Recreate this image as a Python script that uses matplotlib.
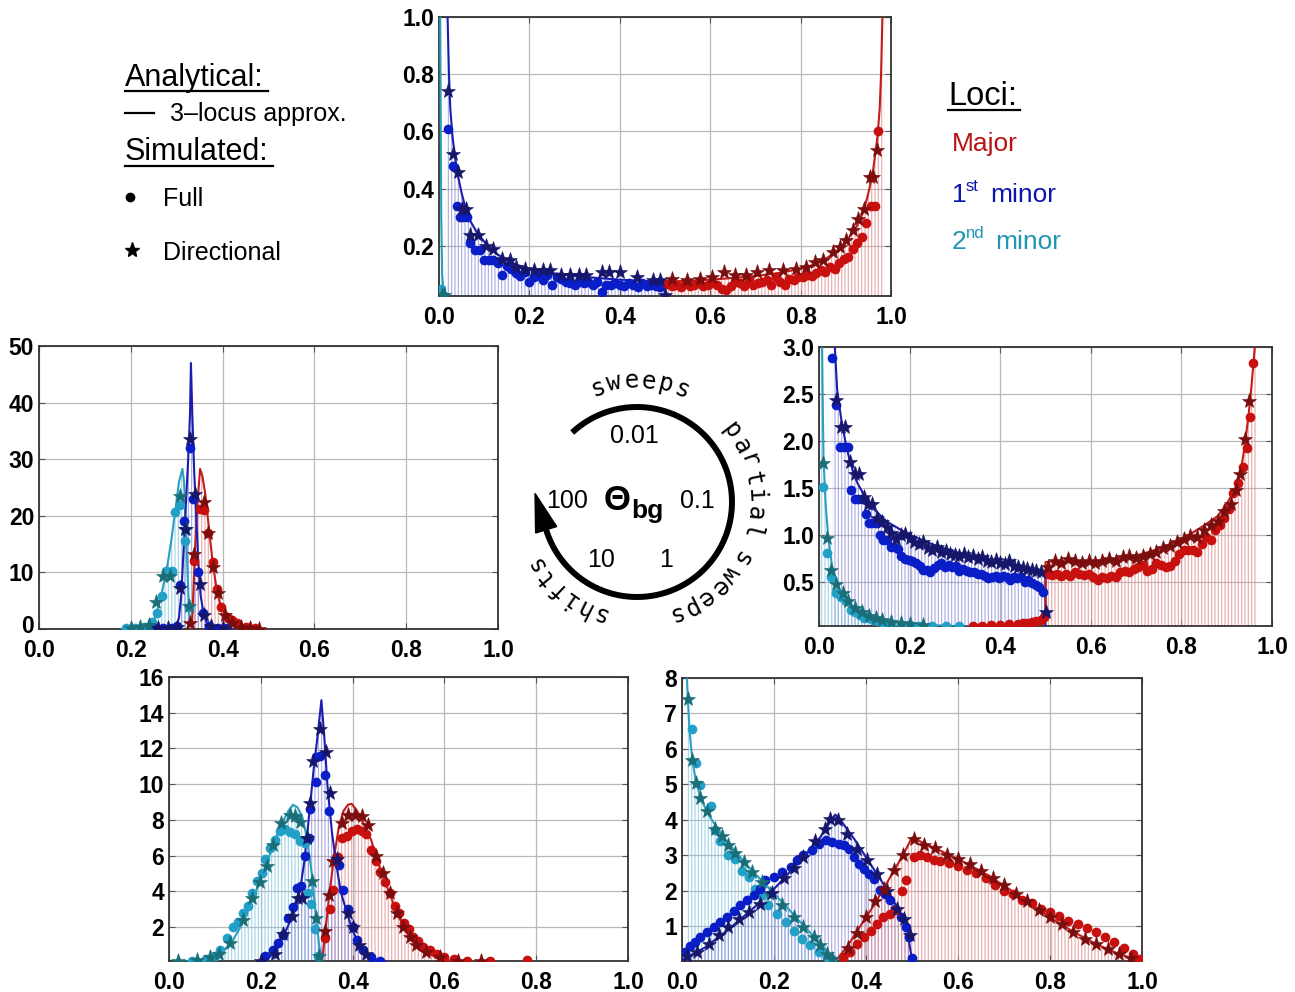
import numpy as np
import matplotlib
matplotlib.use("Agg")
import matplotlib.pyplot as plt
from matplotlib.patches import Polygon
from matplotlib.ticker import FormatStrFormatter
from matplotlib.transforms import ScaledTranslation

plt.rcParams['font.family'] = ['Liberation Sans', 'DejaVu Sans']
plt.rcParams['hatch.linewidth'] = 0.8

# ---------------- colours ----------------
MAJ_LINE, MAJ_DOT, MAJ_STAR, MAJ_BAR = '#c41a1a', '#c8100f', '#7a0d0d', '#e08c8c'
M1_LINE, M1_DOT, M1_STAR, M1_BAR = '#1c1cb0', '#0a1ec8', '#16166a', '#8c8cdc'
M2_LINE, M2_DOT, M2_STAR, M2_BAR = '#2a9fc0', '#23a0c8', '#1a6e78', '#84c6de'

# ================= Panel A : theta_bg = 0.01 (top) =================
A_maj_curve_x = [0.5, 0.55, 0.6, 0.65, 0.7, 0.75, 0.8, 0.83, 0.85, 0.87, 0.89, 0.9, 0.917, 0.93,
                 0.94, 0.95, 0.96, 0.97, 0.975, 0.978, 0.981, 0.985]
A_maj_curve_y = [0.075, 0.078, 0.082, 0.088, 0.095, 0.105, 0.12, 0.135, 0.15, 0.17, 0.195, 0.215,
                 0.25, 0.285, 0.325, 0.385, 0.46, 0.58, 0.68, 0.80, 1.0, 1.4]
A_m1_curve_x = [0.015, 0.019, 0.022, 0.025, 0.03, 0.04, 0.05, 0.06, 0.07, 0.083, 0.1, 0.11, 0.13,
                0.15, 0.17, 0.2, 0.25, 0.3, 0.35, 0.4, 0.45, 0.5]
A_m1_curve_y = [1.4, 1.0, 0.80, 0.68, 0.58, 0.46, 0.385, 0.325, 0.285, 0.25, 0.215, 0.195, 0.17,
                0.15, 0.135, 0.12, 0.105, 0.095, 0.088, 0.082, 0.078, 0.075]
A_m2_curve_x = [0.001, 0.003, 0.005, 0.007, 0.01, 0.015]
A_m2_curve_y = [1.5, 0.9, 0.3, 0.1, 0.04, 0.026]

A_m1_dots_x = [0.019, 0.030, 0.039, 0.046, 0.054, 0.061, 0.069, 0.080, 0.091, 0.10,
               0.11, 0.12, 0.13, 0.14, 0.15, 0.16, 0.17, 0.18, 0.19, 0.20,
               0.21, 0.22, 0.23, 0.24, 0.25, 0.26, 0.27, 0.28, 0.29, 0.30,
               0.31, 0.32, 0.33, 0.34, 0.35, 0.36, 0.37, 0.38, 0.39, 0.40,
               0.41, 0.42, 0.43, 0.44, 0.45, 0.46, 0.47, 0.48, 0.49]
A_m1_dots_y = [0.61, 0.48, 0.34, 0.30, 0.30, 0.30, 0.21, 0.185, 0.185, 0.15,
               0.15, 0.15, 0.14, 0.10, 0.13, 0.12, 0.105, 0.095, 0.11, 0.075,
               0.09, 0.10, 0.08, 0.10, 0.065, 0.09, 0.085, 0.075, 0.07, 0.065,
               0.075, 0.07, 0.075, 0.065, 0.075, 0.04, 0.065, 0.065, 0.07, 0.065,
               0.06, 0.07, 0.065, 0.055, 0.07, 0.06, 0.065, 0.06, 0.055]
A_m1_stars_x = [0.021, 0.030, 0.041, 0.050, 0.060, 0.069, 0.087, 0.104, 0.120, 0.139,
                0.157, 0.170, 0.190, 0.210, 0.230, 0.245, 0.270, 0.290, 0.310, 0.325,
                0.360, 0.375, 0.400, 0.437, 0.474, 0.490, 0.500]
A_m1_stars_y = [0.74, 0.52, 0.458, 0.33, 0.33, 0.237, 0.237, 0.20, 0.19, 0.155,
                0.15, 0.126, 0.12, 0.115, 0.115, 0.115, 0.097, 0.097, 0.097, 0.097,
                0.11, 0.11, 0.11, 0.092, 0.08, 0.08, 0.027]
A_maj_dots_x = [0.505, 0.515, 0.525, 0.535, 0.545, 0.555, 0.565, 0.575, 0.585, 0.595,
                0.605, 0.615, 0.625, 0.635, 0.645, 0.655, 0.665, 0.675, 0.685, 0.695,
                0.705, 0.715, 0.725, 0.735, 0.745, 0.755, 0.765, 0.775, 0.785, 0.795,
                0.805, 0.815, 0.825, 0.835, 0.845, 0.855, 0.865, 0.875, 0.885, 0.895,
                0.905, 0.915, 0.925, 0.935, 0.945, 0.955, 0.965, 0.972]
A_maj_dots_y = [0.068, 0.06, 0.065, 0.055, 0.07, 0.06, 0.065, 0.07, 0.06, 0.065,
                0.07, 0.065, 0.05, 0.045, 0.06, 0.075, 0.07, 0.06, 0.08, 0.065,
                0.07, 0.075, 0.08, 0.065, 0.09, 0.075, 0.065, 0.085, 0.08, 0.09,
                0.09, 0.1, 0.095, 0.105, 0.115, 0.11, 0.125, 0.12, 0.14, 0.155,
                0.16, 0.19, 0.21, 0.23, 0.28, 0.34, 0.34, 0.60]
A_maj_stars_x = [0.515, 0.548, 0.577, 0.603, 0.630, 0.655, 0.680, 0.703, 0.730, 0.760,
                 0.790, 0.813, 0.832, 0.850, 0.872, 0.887, 0.900, 0.917, 0.928, 0.940,
                 0.953, 0.960, 0.970]
A_maj_stars_y = [0.086, 0.08, 0.086, 0.09, 0.11, 0.097, 0.097, 0.11, 0.115, 0.115,
                 0.12, 0.126, 0.144, 0.15, 0.18, 0.196, 0.22, 0.255, 0.295, 0.33,
                 0.44, 0.44, 0.536]
A_m2_dots_x = [0.004, 0.008]
A_m2_dots_y = [0.05, 0.03]
A_m2_stars_x = [0.006, 0.01]
A_m2_stars_y = [0.03, 0.028]

# ================= Panel B : theta_bg = 100 (middle left) =================
B_m1_curve_x = [0.26, 0.29, 0.30, 0.305, 0.31, 0.315, 0.32, 0.325, 0.329, 0.331, 0.334, 0.338,
                0.342, 0.347, 0.352, 0.358, 0.365, 0.375, 0.39]
B_m1_curve_y = [0.0, 0.1, 0.5, 2.0, 6.0, 14.0, 22.0, 30.0, 38.0, 47.0, 38.0, 28.0,
                21.0, 12.0, 6.0, 3.0, 1.2, 0.4, 0.1]
B_m2_curve_x = [0.18, 0.2, 0.22, 0.24, 0.25, 0.256, 0.265, 0.278, 0.288, 0.297, 0.305, 0.3125,
                0.316, 0.32, 0.324, 0.327, 0.33, 0.334]
B_m2_curve_y = [0.02, 0.1, 0.25, 0.6, 1.5, 2.8, 5.5, 10.4, 15.5, 21.0, 26.0, 28.3,
                26.0, 18.0, 9.0, 3.0, 1.0, 0.0]
B_maj_curve_x = [0.333, 0.336, 0.34, 0.345, 0.351, 0.356, 0.362, 0.37, 0.378, 0.387, 0.397,
                 0.41, 0.42, 0.44, 0.47]
B_maj_curve_y = [0.0, 6.0, 14.0, 22.0, 28.3, 27.0, 24.0, 18.0, 12.0, 7.0, 3.8,
                 1.8, 1.0, 0.3, 0.05]
B_m1_dots_x = [0.25, 0.27, 0.29, 0.30, 0.307, 0.315, 0.328, 0.336, 0.347, 0.358, 0.37, 0.39, 0.41]
B_m1_dots_y = [0.1, 0.15, 0.2, 0.6, 7.8, 19.0, 32.0, 23.0, 10.0, 2.9, 0.5, 0.2, 0.1]
B_m1_stars_x = [0.26, 0.28, 0.30, 0.307, 0.319, 0.329, 0.339, 0.35, 0.36, 0.375, 0.4]
B_m1_stars_y = [0.1, 0.2, 0.4, 7.2, 17.6, 33.5, 23.8, 8.0, 2.5, 0.6, 0.15]
B_m2_dots_x = [0.19, 0.21, 0.23, 0.246, 0.256, 0.267, 0.277, 0.289, 0.297, 0.307, 0.318, 0.326]
B_m2_dots_y = [0.1, 0.2, 0.4, 1.3, 2.9, 5.9, 10.3, 10.3, 20.7, 21.9, 15.6, 3.9]
B_m2_stars_x = [0.2, 0.22, 0.24, 0.255, 0.271, 0.286, 0.307, 0.32, 0.326]
B_m2_stars_y = [0.1, 0.3, 0.7, 4.8, 9.4, 9.4, 23.5, 17.6, 4.0]
B_maj_dots_x = [0.338, 0.351, 0.36, 0.369, 0.378, 0.387, 0.397, 0.409, 0.42, 0.431, 0.45, 0.47]
B_maj_dots_y = [12.0, 21.2, 21.0, 17.0, 11.8, 7.1, 3.8, 2.2, 1.6, 1.0, 0.3, 0.1]
B_maj_stars_x = [0.329, 0.338, 0.36, 0.369, 0.38, 0.389, 0.405, 0.42, 0.44, 0.46, 0.48]
B_maj_stars_y = [1.1, 13.2, 22.4, 17.0, 10.9, 6.3, 2.5, 1.0, 0.4, 0.15, 0.05]

# ================= Panel C : theta_bg = 0.1 (middle right) =================
C_m1_curve_x = [0.03, 0.035, 0.04, 0.05, 0.06, 0.07, 0.085, 0.1, 0.12, 0.15, 0.2, 0.25, 0.3,
                0.35, 0.4, 0.45, 0.49, 0.5, 0.5]
C_m1_curve_y = [3.6, 3.0, 2.55, 2.2, 1.95, 1.75, 1.55, 1.42, 1.28, 1.14, 1.0, 0.9, 0.82,
                0.76, 0.71, 0.66, 0.6, 0.55, 0.0]
C_m2_curve_x = [0.004, 0.006, 0.008, 0.01, 0.015, 0.02, 0.03, 0.04, 0.05, 0.07, 0.1, 0.15,
                0.2, 0.25, 0.3, 0.35]
C_m2_curve_y = [4.0, 3.4, 2.5, 1.8, 1.3, 1.0, 0.62, 0.47, 0.38, 0.26, 0.17, 0.09,
                0.055, 0.04, 0.03, 0.02]
C_maj_curve_x = [0.333, 0.37, 0.41, 0.44, 0.47, 0.49, 0.5, 0.5, 0.52, 0.55, 0.6, 0.65, 0.7,
                 0.75, 0.8, 0.85, 0.88, 0.9, 0.92, 0.93, 0.94, 0.95, 0.955, 0.962, 0.967]
C_maj_curve_y = [0.03, 0.035, 0.045, 0.06, 0.08, 0.11, 0.15, 0.71, 0.72, 0.72, 0.72, 0.74, 0.78,
                 0.85, 0.95, 1.1, 1.2, 1.33, 1.5, 1.65, 1.95, 2.35, 2.6, 3.0, 3.4]
C_m1_dots_x = [0.029, 0.038, 0.047, 0.056, 0.064, 0.071, 0.079, 0.087, 0.095, 0.103,
               0.110, 0.118, 0.126, 0.134, 0.142, 0.150, 0.158, 0.166, 0.174, 0.182,
               0.190, 0.198, 0.206, 0.214, 0.222, 0.230, 0.238, 0.246, 0.254, 0.262,
               0.270, 0.278, 0.286, 0.294, 0.302, 0.310, 0.318, 0.326, 0.334, 0.342,
               0.350, 0.358, 0.366, 0.374, 0.382, 0.390, 0.398, 0.406, 0.414, 0.422,
               0.430, 0.438, 0.446, 0.454, 0.462, 0.470, 0.478, 0.486, 0.494, 0.499]
C_m1_dots_y = [2.88, 2.38, 1.94, 1.94, 1.94, 1.48, 1.38, 1.38, 1.38, 1.22,
               1.13, 1.13, 1.13, 1.0, 0.95, 0.95, 0.87, 0.87, 0.85, 0.77,
               0.74, 0.73, 0.72, 0.70, 0.67, 0.63, 0.63, 0.60, 0.65, 0.68,
               0.70, 0.66, 0.68, 0.66, 0.67, 0.62, 0.64, 0.62, 0.60, 0.60,
               0.58, 0.58, 0.56, 0.54, 0.55, 0.56, 0.54, 0.56, 0.55, 0.52,
               0.55, 0.54, 0.55, 0.50, 0.52, 0.49, 0.47, 0.44, 0.39, 0.15]
C_m1_stars_x = [0.038, 0.049, 0.057, 0.069, 0.080, 0.088, 0.10, 0.108, 0.118, 0.128,
                0.14, 0.15, 0.16, 0.17, 0.18, 0.19, 0.20, 0.21, 0.22, 0.23,
                0.24, 0.25, 0.26, 0.27, 0.28, 0.29, 0.30, 0.31, 0.32, 0.33,
                0.34, 0.35, 0.36, 0.37, 0.38, 0.39, 0.40, 0.41, 0.42, 0.43,
                0.44, 0.45, 0.46, 0.47, 0.48, 0.49, 0.50]
C_m1_stars_y = [2.44, 2.15, 2.15, 1.78, 1.65, 1.65, 1.40, 1.33, 1.33, 1.18,
                1.14, 1.08, 1.02, 0.96, 1.0, 1.01, 0.97, 0.92, 0.90, 0.92,
                0.86, 0.84, 0.87, 0.82, 0.83, 0.80, 0.79, 0.78, 0.80, 0.76,
                0.77, 0.74, 0.76, 0.72, 0.71, 0.73, 0.70, 0.69, 0.72, 0.67,
                0.66, 0.65, 0.64, 0.63, 0.62, 0.60, 0.18]
C_m2_dots_x = [0.009, 0.018, 0.027, 0.038, 0.049, 0.06, 0.071, 0.08, 0.09, 0.1, 0.11,
               0.12, 0.13, 0.14, 0.15, 0.16, 0.18, 0.2, 0.22, 0.25, 0.28, 0.31]
C_m2_dots_y = [1.51, 0.81, 0.55, 0.38, 0.34, 0.30, 0.20, 0.18, 0.15, 0.12, 0.11,
               0.09, 0.08, 0.07, 0.06, 0.055, 0.045, 0.04, 0.035, 0.03, 0.03, 0.03]
C_m2_stars_x = [0.009, 0.018, 0.027, 0.038, 0.053, 0.065, 0.08, 0.095, 0.11, 0.125,
                0.14, 0.16, 0.18, 0.2, 0.23]
C_m2_stars_y = [1.76, 0.97, 0.63, 0.48, 0.38, 0.30, 0.22, 0.18, 0.14, 0.11,
                0.09, 0.07, 0.06, 0.05, 0.04]
C_maj_dots_x = [0.34, 0.36, 0.38, 0.40, 0.42, 0.44, 0.45, 0.46, 0.47, 0.48, 0.49, 0.497,
                0.505, 0.515, 0.525, 0.535, 0.545, 0.555, 0.565, 0.575, 0.585, 0.595,
                0.605, 0.615, 0.625, 0.635, 0.645, 0.655, 0.665, 0.675, 0.685, 0.695,
                0.705, 0.715, 0.725, 0.735, 0.745, 0.755, 0.765, 0.775, 0.785, 0.795,
                0.805, 0.815, 0.825, 0.835, 0.845, 0.855, 0.865, 0.875, 0.885, 0.895,
                0.905, 0.915, 0.925, 0.935, 0.945, 0.952, 0.958]
C_maj_dots_y = [0.03, 0.035, 0.04, 0.045, 0.05, 0.055, 0.06, 0.065, 0.07, 0.08, 0.09, 0.13,
                0.58, 0.57, 0.58, 0.56, 0.58, 0.56, 0.60, 0.58, 0.57, 0.58,
                0.55, 0.52, 0.55, 0.54, 0.56, 0.55, 0.60, 0.62, 0.60, 0.64,
                0.66, 0.68, 0.62, 0.64, 0.70, 0.68, 0.66, 0.67, 0.72, 0.80,
                0.84, 0.84, 0.84, 0.82, 0.90, 0.98, 0.95, 1.05, 1.10, 1.18,
                1.28, 1.45, 1.55, 1.72, 1.93, 2.26, 2.83]
C_maj_stars_x = [0.505, 0.52, 0.535, 0.55, 0.565, 0.58, 0.595, 0.61, 0.625, 0.64,
                 0.655, 0.67, 0.685, 0.70, 0.715, 0.73, 0.745, 0.76, 0.775, 0.79,
                 0.805, 0.82, 0.835, 0.85, 0.865, 0.88, 0.895, 0.91, 0.92, 0.93,
                 0.94, 0.95]
C_maj_stars_y = [0.66, 0.72, 0.70, 0.74, 0.72, 0.70, 0.72, 0.70, 0.72, 0.74,
                 0.72, 0.76, 0.77, 0.75, 0.78, 0.80, 0.82, 0.86, 0.88, 0.92,
                 0.96, 0.99, 0.98, 1.05, 1.10, 1.15, 1.25, 1.33, 1.48, 1.65,
                 2.02, 2.43]

# ================= Panel D : theta_bg = 10 (bottom left) =================
D_m1_curve_x = [0.2, 0.22, 0.24, 0.26, 0.275, 0.285, 0.295, 0.305, 0.315, 0.325, 0.332, 0.338,
                0.345, 0.355, 0.365, 0.375, 0.39, 0.4, 0.415, 0.43, 0.45, 0.48]
D_m1_curve_y = [0.15, 0.35, 1.0, 2.1, 3.0, 4.0, 5.7, 8.2, 10.8, 13.0, 14.7, 12.8,
                10.0, 7.3, 5.4, 3.9, 2.6, 1.8, 1.0, 0.5, 0.2, 0.05]
D_m2_curve_x = [0.02, 0.06, 0.1, 0.12, 0.14, 0.16, 0.18, 0.2, 0.22, 0.24, 0.26, 0.27, 0.28,
                0.29, 0.3, 0.31, 0.32, 0.327, 0.333]
D_m2_curve_y = [0.05, 0.1, 0.35, 0.7, 1.3, 2.2, 3.4, 4.7, 6.1, 7.5, 8.5, 8.85, 8.7,
                8.2, 7.1, 5.2, 2.7, 1.0, 0.0]
D_maj_curve_x = [0.333, 0.34, 0.35, 0.36, 0.37, 0.38, 0.39, 0.398, 0.41, 0.42, 0.44, 0.46,
                 0.48, 0.5, 0.52, 0.54, 0.56, 0.6, 0.65, 0.7]
D_maj_curve_y = [0.0, 1.6, 4.0, 6.0, 7.6, 8.5, 8.85, 8.9, 8.5, 8.0, 6.9, 5.3,
                 3.9, 2.6, 1.6, 0.95, 0.55, 0.15, 0.03, 0.01]
D_m1_dots_x = [0.21, 0.227, 0.238, 0.249, 0.26, 0.27, 0.278, 0.287, 0.296, 0.305, 0.307, 0.32,
               0.321, 0.329, 0.34, 0.349, 0.37, 0.38, 0.389, 0.4, 0.41, 0.423, 0.44, 0.46]
D_m1_dots_y = [0.4, 0.7, 1.1, 1.55, 2.5, 3.1, 4.2, 4.3, 6.0, 7.0, 8.6, 10.1,
               11.5, 11.6, 10.5, 8.5, 5.5, 4.1, 3.0, 2.0, 1.3, 0.7, 0.3, 0.1]
D_m1_stars_x = [0.2, 0.23, 0.249, 0.267, 0.28, 0.29, 0.3, 0.308, 0.314, 0.329, 0.341, 0.35,
                0.365, 0.389, 0.4, 0.414, 0.43]
D_m1_stars_y = [0.1, 0.5, 1.6, 2.6, 3.6, 3.6, 7.0, 8.97, 11.3, 13.1, 11.8, 9.5,
                5.8, 2.8, 2.0, 1.0, 0.5]
D_m2_dots_x = [0.05, 0.08, 0.1, 0.111, 0.126, 0.14, 0.151, 0.162, 0.173, 0.18, 0.191, 0.202,
               0.209, 0.22, 0.231, 0.242, 0.252, 0.263, 0.274, 0.285, 0.296, 0.303, 0.31,
               0.318, 0.325]
D_m2_dots_y = [0.1, 0.2, 0.4, 0.7, 1.4, 2.0, 2.3, 2.8, 3.2, 3.9, 4.6, 5.0,
               5.8, 6.4, 6.9, 7.4, 7.5, 7.3, 7.2, 6.8, 6.7, 3.9, 3.3,
               1.9, 0.4]
D_m2_stars_x = [0.02, 0.06, 0.09, 0.11, 0.133, 0.162, 0.18, 0.198, 0.213, 0.227, 0.245, 0.263,
                0.274, 0.285, 0.3, 0.312, 0.321, 0.327]
D_m2_stars_y = [0.1, 0.15, 0.3, 0.5, 1.1, 2.4, 3.6, 4.5, 5.4, 6.6, 7.8, 8.3,
                8.2, 7.9, 7.0, 4.6, 2.5, 0.4]
D_maj_dots_x = [0.34, 0.35, 0.358, 0.369, 0.376, 0.387, 0.398, 0.409, 0.42, 0.429, 0.439, 0.45,
                0.46, 0.47, 0.481, 0.492, 0.501, 0.512, 0.522, 0.532, 0.543, 0.554, 0.568,
                0.583, 0.6, 0.62, 0.65, 0.7, 0.78]
D_maj_dots_y = [1.4, 3.0, 4.1, 5.9, 7.0, 7.1, 7.4, 7.5, 7.4, 7.2, 6.3, 5.7,
                5.1, 4.5, 3.9, 3.2, 2.8, 2.2, 1.9, 1.45, 1.2, 0.9, 0.7,
                0.5, 0.3, 0.2, 0.12, 0.1, 0.15]
D_maj_stars_x = [0.34, 0.349, 0.358, 0.376, 0.39, 0.405, 0.42, 0.434, 0.452, 0.467, 0.481,
                 0.496, 0.51, 0.525, 0.539, 0.561, 0.59, 0.63, 0.68]
D_maj_stars_y = [1.8, 3.8, 5.7, 7.8, 8.3, 8.3, 8.2, 7.7, 6.0, 5.0, 3.9,
                 2.8, 2.0, 1.45, 1.0, 0.6, 0.3, 0.12, 0.1]

# ================= Panel E : theta_bg = 1 (bottom right) =================
E_m2_curve_x = [0.008, 0.012, 0.016, 0.02, 0.025, 0.03, 0.04, 0.05, 0.06, 0.08, 0.1, 0.12,
                0.15, 0.18, 0.2, 0.22, 0.25, 0.28, 0.3, 0.32, 0.333]
E_m2_curve_y = [9.0, 7.6, 6.6, 6.0, 5.5, 5.1, 4.65, 4.35, 4.1, 3.7, 3.35, 3.05,
                2.6, 2.2, 1.93, 1.65, 1.22, 0.8, 0.52, 0.23, 0.0]
E_m1_curve_x = [0.0, 0.05, 0.1, 0.15, 0.2, 0.25, 0.3, 0.333, 0.35, 0.375, 0.4, 0.425, 0.45,
                0.475, 0.49, 0.5]
E_m1_curve_y = [0.05, 0.4, 0.9, 1.45, 2.05, 2.75, 3.5, 4.15, 3.9, 3.45, 2.95, 2.45, 1.95,
                1.35, 0.85, 0.05]
E_maj_curve_x = [0.333, 0.36, 0.38, 0.4, 0.42, 0.44, 0.46, 0.48, 0.5, 0.55, 0.6, 0.65, 0.7,
                 0.75, 0.8, 0.85, 0.9, 0.95, 1.0]
E_maj_curve_y = [0.0, 0.45, 0.85, 1.25, 1.65, 2.1, 2.55, 3.0, 3.5, 3.2, 2.9, 2.55, 2.15,
                 1.7, 1.25, 0.85, 0.5, 0.22, 0.0]
E_m2_dots_x = [0.022, 0.031, 0.04, 0.062, 0.072, 0.083, 0.101, 0.116, 0.13, 0.145, 0.159,
               0.174, 0.188, 0.207, 0.225, 0.243, 0.261, 0.279, 0.297, 0.315, 0.326]
E_m2_dots_y = [6.55, 5.6, 4.97, 4.4, 3.7, 3.4, 3.0, 2.9, 2.55, 2.4, 2.06,
               1.87, 1.59, 1.35, 1.12, 0.88, 0.65, 0.46, 0.27, 0.13, 0.07]
E_m2_stars_x = [0.012, 0.022, 0.03, 0.04, 0.054, 0.071, 0.087, 0.101, 0.116, 0.134,
                0.152, 0.174, 0.192, 0.217, 0.243, 0.264, 0.286, 0.3, 0.315, 0.326]
E_m2_stars_y = [7.4, 5.7, 5.05, 4.63, 4.25, 3.75, 3.54, 3.3, 3.07, 2.8,
                2.53, 2.25, 1.92, 1.59, 1.26, 0.98, 0.7, 0.46, 0.23, 0.09]
E_m1_dots_x = [0.007, 0.018, 0.029, 0.04, 0.054, 0.069, 0.083, 0.098, 0.112, 0.127,
               0.141, 0.156, 0.17, 0.181, 0.199, 0.217, 0.236, 0.25, 0.264, 0.283,
               0.297, 0.312, 0.326, 0.341, 0.352, 0.362, 0.373, 0.384, 0.395, 0.406,
               0.417, 0.431, 0.442, 0.453, 0.464, 0.475, 0.486, 0.493, 0.5]
E_m1_dots_y = [0.27, 0.43, 0.56, 0.7, 0.84, 0.98, 1.12, 1.26, 1.43, 1.59,
               1.73, 1.87, 2.05, 2.3, 2.39, 2.53, 2.67, 2.86, 3.0, 3.14,
               3.33, 3.42, 3.38, 3.33, 3.28, 3.17, 2.95, 2.76, 2.62, 2.48,
               2.34, 2.01, 1.92, 1.73, 1.5, 1.26, 0.98, 0.7, 0.11]
E_m1_stars_x = [0.011, 0.033, 0.058, 0.08, 0.101, 0.123, 0.145, 0.17, 0.195, 0.221,
                0.243, 0.264, 0.29, 0.31, 0.322, 0.34, 0.359, 0.38, 0.402, 0.424,
                0.446, 0.467, 0.482, 0.495]
E_m1_stars_y = [0.15, 0.27, 0.51, 0.75, 0.98, 1.21, 1.4, 1.64, 1.95, 2.35,
                2.65, 2.95, 3.4, 3.75, 4.03, 4.0, 3.6, 3.19, 2.86, 2.48,
                2.0, 1.5, 1.2, 0.74]
E_maj_dots_x = [0.351, 0.366, 0.38, 0.395, 0.41, 0.424, 0.438, 0.452, 0.466, 0.478,
                0.486, 0.504, 0.518, 0.533, 0.547, 0.56, 0.58, 0.6, 0.62, 0.64,
                0.66, 0.68, 0.7, 0.72, 0.74, 0.76, 0.78, 0.8, 0.82, 0.84,
                0.86, 0.88, 0.9, 0.92, 0.94, 0.96, 0.98, 0.995]
E_maj_dots_y = [0.13, 0.27, 0.51, 0.7, 0.88, 1.07, 1.26, 1.35, 1.45, 2.0,
                2.3, 2.95, 3.0, 2.95, 2.86, 2.85, 2.78, 2.7, 2.6, 2.5,
                2.35, 2.15, 2.0, 1.9, 1.75, 1.65, 1.5, 1.4, 1.3, 1.15,
                1.05, 0.95, 0.84, 0.7, 0.55, 0.4, 0.22, 0.08]
E_maj_stars_x = [0.36, 0.38, 0.4, 0.42, 0.44, 0.46, 0.48, 0.504, 0.525, 0.55,
                 0.575, 0.6, 0.625, 0.65, 0.675, 0.7, 0.725, 0.75, 0.775, 0.8,
                 0.825, 0.85, 0.875, 0.9, 0.925, 0.95, 0.975]
E_maj_stars_y = [0.4, 0.8, 1.25, 1.7, 2.05, 2.6, 3.0, 3.47, 3.28, 3.2,
                 3.0, 2.9, 2.75, 2.55, 2.35, 2.15, 1.9, 1.7, 1.45, 1.25,
                 1.05, 0.85, 0.65, 0.5, 0.35, 0.22, 0.1]

# tick definitions
X_TICKS = [0.0, 0.2, 0.4, 0.6, 0.8, 1.0]
A_YTICKS = [0.2, 0.4, 0.6, 0.8, 1.0]
B_YTICKS = [0, 10, 20, 30, 40, 50]
C_YTICKS = [0.5, 1.0, 1.5, 2.0, 2.5, 3.0]
D_YTICKS = [2, 4, 6, 8, 10, 12, 14, 16]
E_YTICKS = [1, 2, 3, 4, 5, 6, 7, 8]

W, H = 1295, 992
fig = plt.figure(figsize=(W / 100, H / 100), dpi=100)


def px_axes(left, right, top, bottom):
    return fig.add_axes([left / W, 1 - bottom / H, (right - left) / W, (bottom - top) / H])


def style(ax, ylim, yticks, yfmt):
    ax.set_xlim(0, 1)
    ax.set_ylim(*ylim)
    ax.set_xticks(X_TICKS)
    ax.set_yticks(yticks)
    ax.xaxis.set_major_formatter(FormatStrFormatter('%.1f'))
    ax.yaxis.set_major_formatter(FormatStrFormatter(yfmt))
    ax.grid(True, color='#b8b8b8', lw=0.9)
    ax.set_axisbelow(True)
    for s in ax.spines.values():
        s.set_color('#333333')
        s.set_linewidth(1.3)
    ax.tick_params(direction='in', length=4, width=0.8, labelsize=16.5,
                   color='#555555', labelcolor='black', top=True, right=True)
    ax.tick_params(axis='x', pad=7)
    ax.tick_params(axis='y', pad=3.5)
    for lab in ax.get_xticklabels() + ax.get_yticklabels():
        lab.set_fontweight('bold')


def locus(ax, cx, cy, line_c, bar_c, dx=None, dy=None, dot_c=None, sx=None, sy=None, star_c=None,
          lw=1.5):
    ax.fill_between(cx, 0, cy, facecolor='none', edgecolor=bar_c, hatch='|||||',
                    linewidth=0, alpha=0.75, zorder=1)
    ax.plot(cx, cy, color=line_c, lw=lw, zorder=3)
    if dx is not None:
        n = min(len(dx), len(dy))
        ax.plot(dx[:n], dy[:n], 'o', color=dot_c, ms=7, mec='none', zorder=4)
    if sx is not None:
        n = min(len(sx), len(sy))
        ax.plot(sx[:n], sy[:n], '*', color=star_c, ms=11, mec=star_c, mew=0.4, zorder=5)


# ---- Panel A
axA = px_axes(439, 891, 17, 296)
locus(axA, A_m1_curve_x, A_m1_curve_y, M1_LINE, M1_BAR, A_m1_dots_x, A_m1_dots_y, M1_DOT,
      A_m1_stars_x, A_m1_stars_y, M1_STAR)
locus(axA, A_maj_curve_x, A_maj_curve_y, MAJ_LINE, MAJ_BAR, A_maj_dots_x, A_maj_dots_y, MAJ_DOT,
      A_maj_stars_x, A_maj_stars_y, MAJ_STAR)
locus(axA, A_m2_curve_x, A_m2_curve_y, M2_LINE, M2_BAR, A_m2_dots_x, A_m2_dots_y, M2_DOT,
      A_m2_stars_x, A_m2_stars_y, M2_STAR)
style(axA, (0.025, 1.0), A_YTICKS, '%.1f')

# ---- Panel B
axB = px_axes(39, 498, 346, 629)
locus(axB, B_m2_curve_x, B_m2_curve_y, M2_LINE, M2_BAR, B_m2_dots_x, B_m2_dots_y, M2_DOT,
      B_m2_stars_x, B_m2_stars_y, M2_STAR)
locus(axB, B_maj_curve_x, B_maj_curve_y, MAJ_LINE, MAJ_BAR, B_maj_dots_x, B_maj_dots_y, MAJ_DOT,
      B_maj_stars_x, B_maj_stars_y, MAJ_STAR)
locus(axB, B_m1_curve_x, B_m1_curve_y, M1_LINE, M1_BAR, B_m1_dots_x, B_m1_dots_y, M1_DOT,
      B_m1_stars_x, B_m1_stars_y, M1_STAR)
style(axB, (0, 50), B_YTICKS, '%d')
# lift the "0" label a little so it clears the "0.0" x label (as in the original)
fig.canvas.draw()
zero_lab = axB.get_yticklabels()[0]
zero_lab.set_transform(zero_lab.get_transform() + ScaledTranslation(0, 5 / 100, fig.dpi_scale_trans))

# ---- Panel C
axC = px_axes(819, 1272, 347, 626)
locus(axC, C_m1_curve_x, C_m1_curve_y, M1_LINE, M1_BAR, C_m1_dots_x, C_m1_dots_y, M1_DOT,
      C_m1_stars_x, C_m1_stars_y, M1_STAR)
locus(axC, C_maj_curve_x, C_maj_curve_y, MAJ_LINE, MAJ_BAR, C_maj_dots_x, C_maj_dots_y, MAJ_DOT,
      C_maj_stars_x, C_maj_stars_y, MAJ_STAR)
locus(axC, C_m2_curve_x, C_m2_curve_y, M2_LINE, M2_BAR, C_m2_dots_x, C_m2_dots_y, M2_DOT,
      C_m2_stars_x, C_m2_stars_y, M2_STAR)
style(axC, (0.03, 3.0), C_YTICKS, '%.1f')

# ---- Panel D
axD = px_axes(169, 628, 677, 961)
locus(axD, D_m2_curve_x, D_m2_curve_y, M2_LINE, M2_BAR, D_m2_dots_x, D_m2_dots_y, M2_DOT,
      D_m2_stars_x, D_m2_stars_y, M2_STAR)
locus(axD, D_maj_curve_x, D_maj_curve_y, MAJ_LINE, MAJ_BAR, D_maj_dots_x, D_maj_dots_y, MAJ_DOT,
      D_maj_stars_x, D_maj_stars_y, MAJ_STAR)
locus(axD, D_m1_curve_x, D_m1_curve_y, M1_LINE, M1_BAR, D_m1_dots_x, D_m1_dots_y, M1_DOT,
      D_m1_stars_x, D_m1_stars_y, M1_STAR)
style(axD, (0.1, 16), D_YTICKS, '%d')

# ---- Panel E
axE = px_axes(682, 1142, 678, 961)
locus(axE, E_m2_curve_x, E_m2_curve_y, M2_LINE, M2_BAR, E_m2_dots_x, E_m2_dots_y, M2_DOT,
      E_m2_stars_x, E_m2_stars_y, M2_STAR)
locus(axE, E_m1_curve_x, E_m1_curve_y, M1_LINE, M1_BAR, E_m1_dots_x, E_m1_dots_y, M1_DOT,
      E_m1_stars_x, E_m1_stars_y, M1_STAR)
locus(axE, E_maj_curve_x, E_maj_curve_y, MAJ_LINE, MAJ_BAR, E_maj_dots_x, E_maj_dots_y, MAJ_DOT,
      E_maj_stars_x, E_maj_stars_y, MAJ_STAR)
style(axE, (0.02, 8), E_YTICKS, '%d')

# ---------------- overlay for legends and diagram (pixel coordinates) ----------------
ov = fig.add_axes([0, 0, 1, 1], zorder=10)
ov.set_xlim(0, W)
ov.set_ylim(H, 0)
ov.axis('off')

# left legend
ov.text(125, 86, 'Analytical:', fontsize=22, va='baseline', ha='left')
ov.plot([125, 268], [91, 91], color='black', lw=1.6)
ov.plot([125, 154], [113, 113], color='black', lw=1.6)
ov.text(170, 121, '3\u2013locus approx.', fontsize=18, va='baseline', ha='left')
ov.text(125, 160, 'Simulated:', fontsize=22, va='baseline', ha='left')
ov.plot([125, 273], [166, 166], color='black', lw=1.6)
ov.plot([130], [197], 'o', color='black', ms=6)
ov.text(163, 206, 'Full', fontsize=18, va='baseline', ha='left')
ov.plot([132], [250], '*', color='black', ms=11)
ov.text(163, 260, 'Directional', fontsize=18, va='baseline', ha='left')

# right legend
ov.text(948, 105, 'Loci:', fontsize=23.5, va='baseline', ha='left')
ov.plot([948, 1020], [110, 110], color='black', lw=1.6)
ov.text(952, 151, 'Major', fontsize=19, va='baseline', ha='left', color='#b81414')
ov.text(952, 202, '1', fontsize=19, va='baseline', ha='left', color='#0c14b0')
ov.text(966, 191, 'st', fontsize=12, va='baseline', ha='left', color='#0c14b0')
ov.text(990, 202, 'minor', fontsize=19, va='baseline', ha='left', color='#0c14b0')
ov.text(952, 249, '2', fontsize=19, va='baseline', ha='left', color='#1e96b4')
ov.text(966, 238, 'nd', fontsize=12, va='baseline', ha='left', color='#1e96b4')
ov.text(995, 249, 'minor', fontsize=19, va='baseline', ha='left', color='#1e96b4')

# circular diagram
CX, CY, R = 637, 502, 95
th = np.radians(np.linspace(133, -163, 300))
ov.plot(CX + R * np.cos(th), CY - R * np.sin(th), color='black', lw=4.3, solid_capstyle='butt')
tb = np.radians(-163)
base = np.array([CX + R * np.cos(tb), CY - R * np.sin(tb)])
d = np.array([np.sin(tb), np.cos(tb)])
nrm = np.array([d[1], -d[0]])
tip = base + 38 * d
head = Polygon([tip, base + 11 * nrm, base - 11 * nrm], closed=True, color='black')
ov.add_patch(head)

ov.text(634, 436, '0.01', fontsize=18, ha='center', va='center')
ov.text(567, 501, '100', fontsize=18, ha='center', va='center')
ov.text(697, 501, '0.1', fontsize=18, ha='center', va='center')
ov.text(601, 560, '10', fontsize=18, ha='center', va='center')
ov.text(666, 560, '1', fontsize=18, ha='center', va='center')
ov.text(617, 501, '\u0398', fontsize=25, fontweight='bold', ha='center', va='center')
ov.text(631, 518, 'bg', fontsize=19, fontweight='bold', ha='left', va='baseline')


def arc_text(s, th0, step, r):
    for i, ch in enumerate(s):
        t = th0 - i * step
        tr = np.radians(t)
        ov.text(CX + r * np.cos(tr), CY - r * np.sin(tr), ch, rotation=t - 90,
                rotation_mode='anchor', ha='center', va='baseline',
                family='DejaVu Sans Mono', fontsize=17.5)


arc_text('sweeps', 109, 8.2, 114)
arc_text('partial', 37, 8.5, 111)
arc_text('sweeps', -29, 8.6, 111)
arc_text('shifts', -109, 8.0, 111)

fig.savefig('out.png', dpi=100)
